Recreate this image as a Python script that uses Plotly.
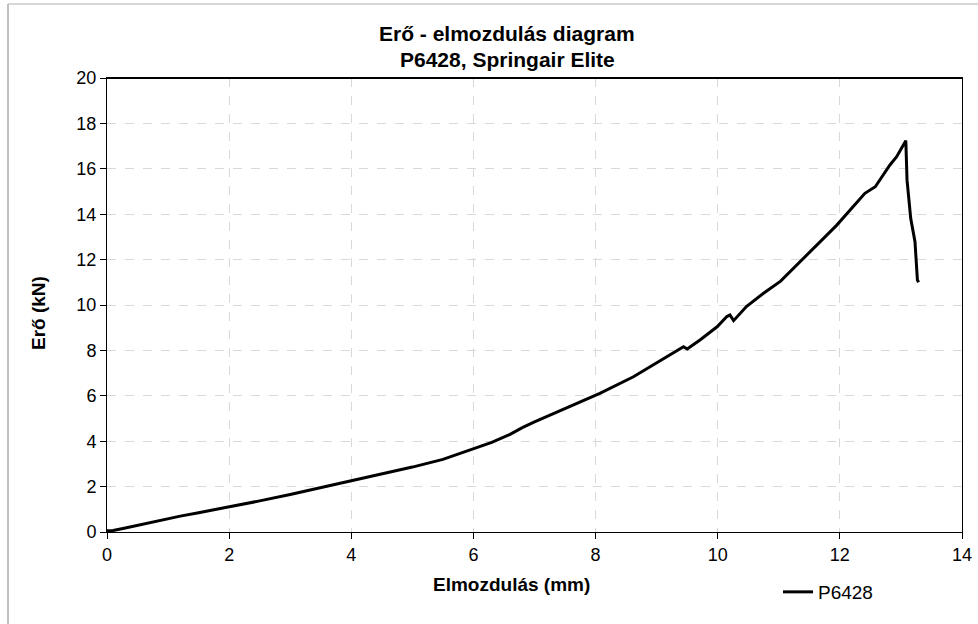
import plotly.graph_objects as go

# Data
displacement_mm = [0, 0.1, 0.3, 0.6, 0.87, 1.2, 1.5, 2.0, 2.5, 3.0, 3.5, 4.0, 4.5, 5.0, 5.5,
                   6.0, 6.3, 6.6, 6.8, 7.0, 7.5, 8.07, 8.62, 9.16, 9.44, 9.50, 9.71, 9.99,
                   10.15, 10.2, 10.26, 10.47, 10.75, 11.03, 11.54, 11.95, 12.41, 12.52, 12.58,
                   12.82, 12.93, 13.08, 13.09, 13.1, 13.16, 13.23, 13.27, 13.29]
force_kN = [0.05, 0.07, 0.18, 0.35, 0.53, 0.7, 0.85, 1.1, 1.37, 1.65, 1.95, 2.25, 2.55, 2.86, 3.2,
            3.65, 3.95, 4.3, 4.6, 4.85, 5.45, 6.11, 6.84, 7.72, 8.16, 8.06, 8.46, 9.04,
            9.49, 9.56, 9.31, 9.93, 10.52, 11.05, 12.42, 13.52, 14.92, 15.11, 15.21,
            16.17, 16.53, 17.24, 15.65, 15.5, 13.82, 12.79, 11.1, 11.0]
series_name = "P6428"
title_lines = ["Erő - elmozdulás diagram", "P6428, Springair Elite"]
x_title = "Elmozdulás (mm)"
y_title = "Erő (kN)"
x_ticks = [0, 2, 4, 6, 8, 10, 12, 14]
y_ticks = [0, 2, 4, 6, 8, 10, 12, 14, 16, 18, 20]

FONT = "Liberation Sans, Arial, sans-serif"

fig = go.Figure()
fig.add_trace(go.Scatter(x=displacement_mm, y=force_kN, mode="lines", name=series_name,
                         line=dict(color="black", width=3)))

L, R, T, B = 107, 16, 78, 92
W, H = 978, 624
pw, ph = W - L - R, H - T - B

def px(xp):
    return (xp - L) / pw

def py(yp):
    return (H - B - yp) / ph

axis_common = dict(showline=True, linecolor="black", linewidth=1, mirror=True,
                   ticks="outside", ticklen=6, tickcolor="black", automargin=False,
                   showgrid=True, gridcolor="#d9d9d9", griddash="dash", gridwidth=1,
                   zeroline=False, tickfont=dict(family=FONT, size=18, color="black"))

fig.update_layout(
    width=W, height=H,
    margin=dict(l=L, r=R, t=T, b=B, autoexpand=False),
    paper_bgcolor="white", plot_bgcolor="white",
    font=dict(family=FONT, color="black"),
    showlegend=True,
    legend=dict(x=px(778), y=py(592), xanchor="left", yanchor="middle",
                font=dict(family=FONT, size=19, color="black"),
                bgcolor="rgba(0,0,0,0)", itemwidth=30),
    xaxis=dict(range=[0, 14], tickvals=x_ticks, **axis_common),
    yaxis=dict(range=[0, 20], tickvals=y_ticks, **axis_common),
)

ann_common = dict(xref="paper", yref="paper", showarrow=False, xanchor="center", yanchor="middle")
annotations = [
    dict(text="<b>" + title_lines[0] + "</b>", x=px(507), y=py(34),
         font=dict(family=FONT, size=21, color="black"), **ann_common),
    dict(text="<b>" + title_lines[1] + "</b>", x=px(507), y=py(59),
         font=dict(family=FONT, size=21, color="black"), **ann_common),
    dict(text="<b>" + x_title + "</b>", x=px(511), y=py(584),
         font=dict(family=FONT, size=19, color="black"), **ann_common),
    dict(text="<b>" + y_title + "</b>", x=px(38), y=py(313), textangle=-90,
         font=dict(family=FONT, size=19, color="black"), **ann_common),
]
fig.update_layout(annotations=annotations)

shapes = [
    # top frame line (thicker)
    dict(type="line", xref="paper", yref="paper", x0=0, x1=1, y0=1, y1=1,
         line=dict(color="black", width=2)),
    # outer chart border (left and top)
    dict(type="line", xref="paper", yref="paper", x0=px(8), x1=px(8), y0=py(4), y1=py(H + 5),
         line=dict(color="#808080", width=1)),
    dict(type="line", xref="paper", yref="paper", x0=px(8), x1=px(W + 5), y0=py(4), y1=py(4),
         line=dict(color="#b0b0b0", width=1)),
]
fig.update_layout(shapes=shapes)

fig.write_html("out.html", config={"displayModeBar": False},
               post_script="document.body.style.margin='0px';document.body.style.overflow='hidden';")
